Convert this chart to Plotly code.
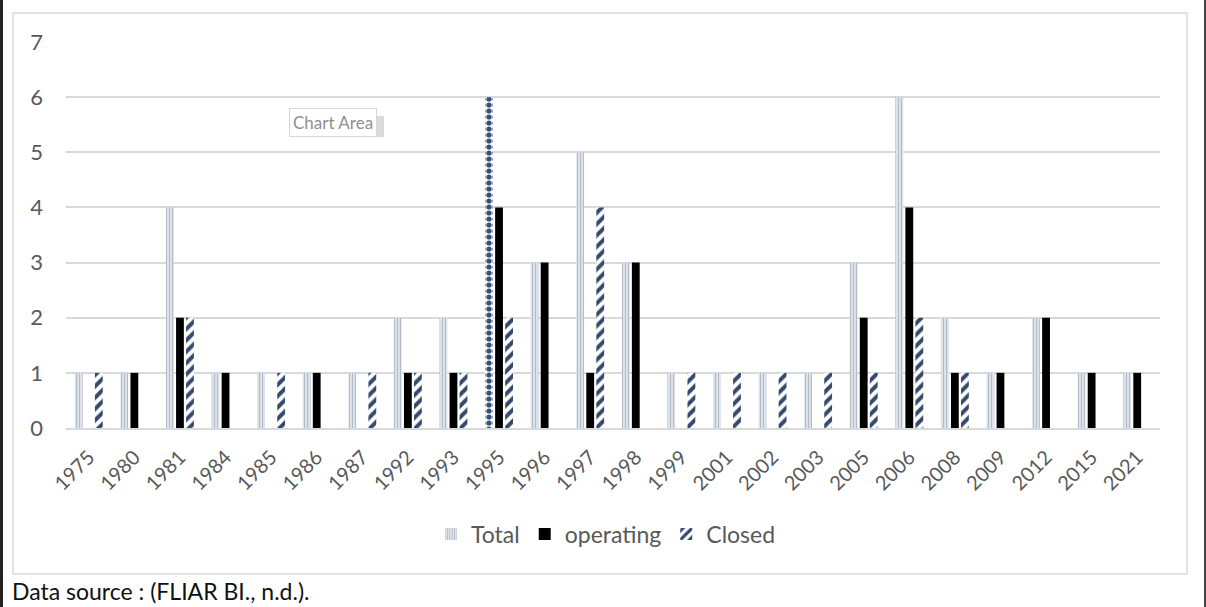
import plotly.graph_objects as go

years = ["1975", "1980", "1981", "1984", "1985", "1986", "1987", "1992", "1993", "1995",
         "1996", "1997", "1998", "1999", "2001", "2002", "2003", "2005", "2006", "2008",
         "2009", "2012", "2015", "2021"]
total =     [1, 1, 4, 1, 1, 1, 1, 2, 2, 6, 3, 5, 3, 1, 1, 1, 1, 3, 6, 2, 1, 2, 1, 1]
operating = [0, 1, 2, 1, 0, 1, 0, 1, 1, 4, 3, 1, 3, 0, 0, 0, 0, 2, 4, 1, 1, 2, 1, 1]
closed =    [1, 0, 2, 0, 1, 0, 1, 1, 1, 2, 0, 4, 0, 1, 1, 1, 1, 1, 2, 1, 0, 0, 0, 0]
y_ticks = [0, 1, 2, 3, 4, 5, 6, 7]
selected_year = "1995"  # this Total bar is shown selected in the source

W, H = 1206, 607
L, R, T, B = 66, 1160, 42, 428  # plot area in pixels


def px(p):
    return (p - L) / (R - L)


def py(p):
    return (B - p) / (B - T)


sel = years.index(selected_year)

fig = go.Figure()
fig.add_trace(go.Bar(
    x=years, y=total, name="Total", offsetgroup="t",
    marker=dict(color="#dde2e9", line=dict(width=0),
                pattern=dict(shape="|", fgcolor="#b3bdca", bgcolor="#dde2e9", fgopacity=1,
                             size=3, solidity=0.35, fillmode="overlay")),
))
fig.add_trace(go.Bar(
    x=years, y=operating, name="operating", offsetgroup="o",
    marker=dict(color="#000000", line=dict(width=0)),
))
fig.add_trace(go.Bar(
    x=years, y=closed, name="Closed", offsetgroup="c",
    marker=dict(color="#ffffff", line=dict(width=0),
                pattern=dict(shape="/", fgcolor="#34496b", bgcolor="#ffffff", fgopacity=1,
                             size=8, solidity=0.5, fillmode="overlay")),
))
# selected Total bar, drawn over the normal one in the same slot
fig.add_trace(go.Bar(
    x=[years[sel]], y=[total[sel]], name="Total", offsetgroup="t", showlegend=False,
    marker=dict(color="#ffffff", line=dict(width=0),
                pattern=dict(shape=".", fgcolor="#34507a", bgcolor="#ffffff", fgopacity=1,
                             size=6, solidity=0.6, fillmode="overlay")),
))

font_main = "Lato, 'Open Sans', sans-serif"
tick_col = "#595959"

shapes = [
    # outer black edges (left / right)
    dict(type="rect", xref="paper", yref="paper", x0=px(0), x1=px(3), y0=py(H), y1=py(0),
         fillcolor="#222222", line=dict(width=0), layer="above"),
    dict(type="rect", xref="paper", yref="paper", x0=px(1204), x1=px(1206), y0=py(H), y1=py(0),
         fillcolor="#444444", line=dict(width=0), layer="above"),
    # chart area border
    dict(type="rect", xref="paper", yref="paper", x0=px(13), x1=px(1187), y0=py(574), y1=py(13),
         line=dict(color="#d9d9d9", width=1.5), fillcolor="rgba(0,0,0,0)", layer="below"),
    # "Chart Area" tooltip shadow
    dict(type="rect", xref="paper", yref="paper", x0=px(290), x1=px(384), y0=py(137), y1=py(116),
         fillcolor="#dadada", line=dict(width=0), layer="above"),
]

annotations = [
    dict(text="Chart Area", xref="paper", yref="paper", x=px(333), y=py(123),
         xanchor="center", yanchor="middle", showarrow=False,
         font=dict(family=font_main, size=17, color="#8f8f8f"),
         bgcolor="#ffffff", bordercolor="#d6d6d6", borderwidth=1, borderpad=3),
    dict(text="Data source : (FLIAR BI., n.d.).", xref="paper", yref="paper",
         x=px(10), y=py(591), xanchor="left", yanchor="middle", showarrow=False,
         font=dict(family=font_main, size=23, color="#111111")),
]

fig.update_layout(
    width=W, height=H,
    margin=dict(l=L, r=W - R, t=T, b=H - B),
    paper_bgcolor="#ffffff", plot_bgcolor="#ffffff",
    barmode="group", bargap=0.34, bargroupgap=0.22,
    font=dict(family=font_main, color=tick_col),
    showlegend=True,
    legend=dict(orientation="h", x=px(606), xanchor="center", y=py(534), yanchor="middle",
                font=dict(family=font_main, size=23, color=tick_col),
                itemwidth=30, traceorder="normal", bgcolor="rgba(0,0,0,0)"),
    xaxis=dict(type="category", categoryorder="array", categoryarray=years,
               tickangle=-45, showgrid=False, ticks="",
               showline=True, linecolor="#d9d9d9", linewidth=1.5,
               ticklabelstandoff=8,
               tickfont=dict(family=font_main, size=20, color=tick_col),
               fixedrange=True),
    yaxis=dict(range=[0, 7], tickvals=y_ticks, showgrid=True, gridcolor="#d9d9d9",
               gridwidth=1.5, zeroline=False, showline=False, ticks="",
               ticklabelstandoff=22,
               tickfont=dict(family=font_main, size=22, color=tick_col),
               fixedrange=True),
    shapes=shapes,
    annotations=annotations,
)

fig.write_html("out.html")
